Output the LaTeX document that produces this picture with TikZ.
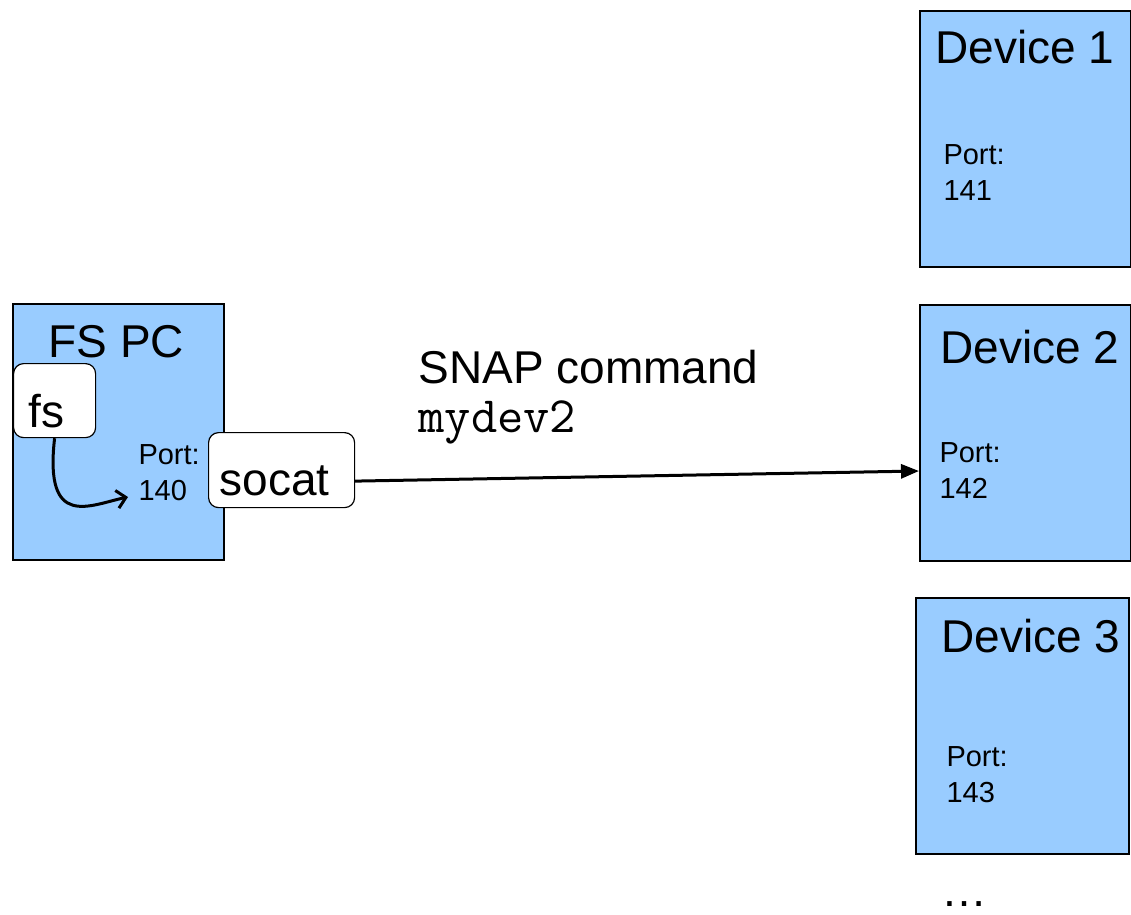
\documentclass[tikz,border=0pt]{standalone}
\usepackage{fontspec}
\setmainfont{Liberation Sans}
\usetikzlibrary{arrows.meta}
\begin{document}
\begin{tikzpicture}[x=1pt,y=-1pt,
  box/.style={draw,line width=2pt,fill=boxblue,minimum width=211pt,minimum height=256pt,anchor=north west,inner sep=0pt},
  prog/.style={draw,line width=1.2pt,fill=white,rounded corners=10pt,anchor=north west,inner sep=0pt},
  big/.style={font=\fontsize{46}{52}\selectfont,anchor=base west,inner sep=0pt},
  port/.style={font=\fontsize{29}{36}\selectfont,align=left,anchor=base west,inner sep=0pt},
  every path/.style={line width=3pt}]
\useasboundingbox (0,0) rectangle (1131,914);
\definecolor{boxblue}{HTML}{99CCFF}
% devices (port labels sit on the baseline of their last line)
\node[box] (dev1) at (919,10) {};
\node[box] (dev2) at (919,304) {};
\node[box,minimum width=213pt] (dev3) at (915,597) {};
\node[big] (dev1t) at (934,63) {Device 1};
\node[big] (dev2t) at (939,363) {Device 2};
\node[big] (dev3t) at (940,652) {Device 3};
\node[port] (p1) at (942,200) {Port:\\141};
\node[port] (p2) at (938,498) {Port:\\142};
\node[port] (p3) at (945,802) {Port:\\143};
\node[big] (more) at (940,906) {\ldots};
% the pc
\node[box] (pc) at (12,303) {};
\node[big] (pct) at (47,357) {FS PC};
\node[prog,minimum width=82pt,minimum height=74pt] (fs) at (13,363) {};
\node[big] (fst) at (27,427) {fs};
\node[port] (p0) at (137,500) {Port:\\140};
\node[prog,minimum width=146pt,minimum height=75pt] (socat) at (208,432) {};
\node[big] (socatt) at (218,495) {socat};
\coordinate (p0in) at (128,497);
\draw[-{Straight Barb[length=9pt,width=18pt]}] (fs.south) .. controls (44,530) and (90,505) .. (p0in);
% command
\node[big] (snap) at (417,383) {SNAP command};
\node[big,font=\fontsize{51}{56}\ttfamily] (cmd) at (417,432) {mydev2};
\draw[-{Triangle[length=18pt,width=14pt]}] ([yshift=-11pt]socat.east) -- ([yshift=-38pt]dev2.west);
\end{tikzpicture}
\end{document}
